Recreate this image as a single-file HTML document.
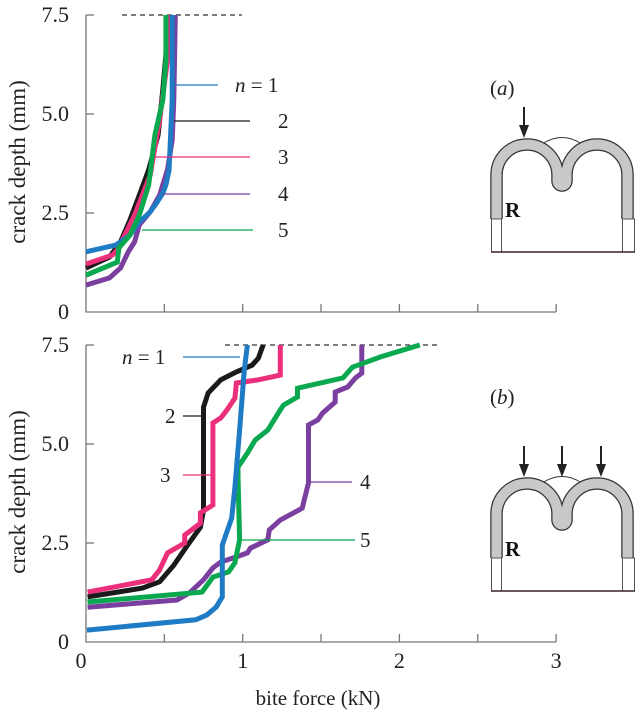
<!DOCTYPE html>
<html><head><meta charset="utf-8"><style>
html,body{margin:0;padding:0;background:#fff;}
svg{display:block;font-family:"Liberation Serif",serif;}
</style></head><body>
<svg id="chart" width="636" height="714" viewBox="0 0 636 714">
<g id="axes"></g><g id="series"></g><g id="labels"></g>
<g id="schematic-a"></g>
<g id="schematic-b"></g>
</svg>
<script>
const xTicks = [0, 0.5, 1, 1.5, 2, 2.5, 3];
const xTickLabels = ["0", "1", "2", "3"];
const yTicks = [0, 2.5, 5.0, 7.5];
const yTickLabels = ["0", "2.5", "5.0", "7.5"];
const seriesNames = ["n = 1", "2", "3", "4", "5"];
const seriesColors = ["#1f7bc4", "#1a1a1a", "#ec2f7a", "#7b3fa0", "#0aa84f"];
// panel a
const aBlueF = [0,.19,.28,.34,.41,.45,.49,.51,.53,.54,.55,.55];
const aBlueD = [1.52,1.69,1.94,2.27,2.53,2.75,3.0,3.21,3.59,4.47,5.35,7.5];
const aBlackF = [0,.15,.22,.28,.34,.40,.46,.49,.51,.52];
const aBlackD = [1.11,1.39,1.77,2.32,2.95,3.59,4.47,5.61,6.49,7.5];
const aPinkF = [0,.17,.20,.22,.31,.41,.47,.52,.53];
const aPinkD = [1.21,1.44,1.57,1.72,2.45,3.46,4.85,6.36,7.5];
const aPurpleF = [0,.15,.22,.27,.31,.34,.41,.47,.52,.55,.56,.57];
const aPurpleD = [.68,.86,1.11,1.52,1.77,2.2,2.53,2.95,3.59,4.34,5.35,7.5];
const aGreenF = [0,.20,.21,.28,.34,.40,.44,.49,.51,.51];
const aGreenD = [.93,1.26,1.62,1.94,2.45,3.21,4.47,5.35,6.36,7.5];
// panel b
const bBlueF = [.006,.7,.77,.83,.87,.87,.93,.95,.98,1.01,1.03];
const bBlueD = [.3,.56,.68,.88,1.14,2.45,3.13,3.91,5.35,6.87,7.5];
const bBlackF = [.01,.36,.47,.56,.64,.73,.75,.75,.78,.86,.96,1.06,1.10,1.13];
const bBlackD = [1.14,1.36,1.52,1.94,2.4,2.9,3.33,5.93,6.29,6.62,6.82,6.99,7.17,7.5];
const bPinkF = [.01,.42,.47,.52,.63,.63,.73,.73,.81,.81,.86,.9,.95,.96,1.10,1.24,1.24];
const bPinkD = [1.26,1.57,1.82,2.25,2.5,2.7,3.0,3.26,3.46,5.53,5.66,5.86,6.16,6.54,6.62,6.74,7.5];
const bPurpleF = [.01,.58,.66,.75,.81,.86,.96,1.03,1.05,1.16,1.17,1.24,1.38,1.42,1.42,1.48,1.51,1.59,1.59,1.67,1.72,1.76,1.76];
const bPurpleD = [.88,1.06,1.24,1.57,1.87,2.02,2.15,2.25,2.37,2.58,2.83,3.08,3.38,4.02,5.48,5.61,5.78,6.06,6.31,6.44,6.67,6.79,7.5];
const bGreenF = [.01,.74,.81,.91,.95,.98,.97,.97,1.03,1.08,1.16,1.24,1.26,1.35,1.35,1.64,1.70,1.88,2.13];
const bGreenD = [1.01,1.26,1.64,1.77,2.0,2.58,4.17,4.42,4.77,5.1,5.35,5.86,5.98,6.19,6.41,6.67,6.94,7.2,7.5];

const NS="http://www.w3.org/2000/svg";
const X0=86, XS=156.7, YS=39.6;
const X = f => X0 + f*XS;
const panels = [{y0:312, key:"a"}, {y0:642, key:"b"}];
function mk(tag, attrs, parent, text){
  const e=document.createElementNS(NS,tag);
  for(const k in attrs) e.setAttribute(k, attrs[k]);
  if(text!==undefined) e.textContent=text;
  parent.appendChild(e); return e;
}
const axesG=document.getElementById('axes'), serG=document.getElementById('series'), labG=document.getElementById('labels');
panels.forEach(p=>{
  const Y = d => p.y0 - d*YS;
  const ax = mk('path',{d:`M${X0},${Y(7.5)} V${p.y0} H${X(3)}`,fill:'none',stroke:'#777','stroke-width':1.3},axesG);
  
  
  xTicks.forEach(t=>{ if(t===0) return;
    const tk=mk('line',{x1:X(t),x2:X(t),y1:p.y0,y2:p.y0-8,stroke:'#777','stroke-width':1.3},axesG);
    
    
  });
  yTicks.forEach((t,i)=>{
    if(t>0){const tk=mk('line',{x1:X0,x2:X0+8,y1:Y(t),y2:Y(t),stroke:'#777','stroke-width':1.3},axesG);
    
    }
    const tl=mk('text',{x:69,y:Y(t)+7,'text-anchor':'end','font-size':22,fill:'#222'},labG,yTickLabels[i]);
    
    
  });
  const dash=mk('line',{x1:p.key==='a'?122:225,x2:p.key==='a'?242:441,y1:Y(7.5),y2:Y(7.5),stroke:'#333','stroke-width':1.2,'stroke-dasharray':'5,4'},axesG);
  
  
  const yt=mk('text',{transform:`translate(25,${p.y0-150}) rotate(-90)`,'text-anchor':'middle','font-size':23,fill:'#222'},labG,'crack depth (mm)');
  
  
});
[0,1,2,3].forEach((t,i)=>{
  const tl=mk('text',{x:X(t)-(i===0?5:0),y:668,'text-anchor':'middle','font-size':22,fill:'#222'},labG,xTickLabels[i]);
  
  
});
const xt=mk('text',{x:318,y:705,'text-anchor':'middle','font-size':21,fill:'#222'},labG,'bite force (kN)');



function line(F,D,y0,color,name){
  const pts=F.map((f,i)=>X(f).toFixed(1)+','+(y0-D[i]*YS).toFixed(1)).join(' ');
  const pl=mk('polyline',{points:pts,fill:'none',stroke:color,'stroke-width':5,'stroke-linejoin':'miter'},serG);
  
  
}
line(aBlackF,aBlackD,312,seriesColors[1],'series-a-n2');
line(aPinkF,aPinkD,312,seriesColors[2],'series-a-n3');
line(aPurpleF,aPurpleD,312,seriesColors[3],'series-a-n4');
line(aBlueF,aBlueD,312,seriesColors[0],'series-a-n1');
line(aGreenF,aGreenD,312,seriesColors[4],'series-a-n5');
line(bBlackF,bBlackD,642,seriesColors[1],'series-b-n2');
line(bPinkF,bPinkD,642,seriesColors[2],'series-b-n3');
line(bPurpleF,bPurpleD,642,seriesColors[3],'series-b-n4');
line(bGreenF,bGreenD,642,seriesColors[4],'series-b-n5');
line(bBlueF,bBlueD,642,seriesColors[0],'series-b-n1');

const callA=[[174,218,85,235],[174,250,121,278],[155,250,157,278],[163,250,194,278],[142,253,230,278]];
callA.forEach((c,i)=>{
  const l=mk('line',{x1:c[0],x2:c[1],y1:c[2],y2:c[2],stroke:seriesColors[i],'stroke-width':1.3},labG);
  
  
  const t=mk('text',{x:c[3],y:c[2]+7,'font-size':21,fill:'#222'},labG);
  
  
  if(i===0){ t.innerHTML='<tspan font-style="italic">n</tspan> = 1'; } else t.textContent=seriesNames[i];
});
const callB=[[183,240,357,122],[183,203,416,165],[183,213,475,160],[310,352,482,360],[238,355,540,360]];
callB.forEach((c,i)=>{
  const l=mk('line',{x1:c[0],x2:c[1],y1:c[2],y2:c[2],stroke:seriesColors[i],'stroke-width':1.3},labG);
  
  
  const t=mk('text',{x:c[3],y:c[2]+7,'font-size':21,fill:'#222'},labG);
  
  
  if(i===0){ t.innerHTML='<tspan font-style="italic">n</tspan> = 1'; } else t.textContent=seriesNames[i];
});
[['(a)',490,95],['(b)',490,404]].forEach(p=>{
  const t=mk('text',{x:p[1],y:p[2],'font-size':21,fill:'#222'},labG);
  t.innerHTML='(<tspan font-style="italic">'+p[0][1]+'</tspan>)';
  
  
});

function tooth(g,top,arrows){
  const cy=top+36, gb=top+80, bot=top+113;
  const path=`M496.5,${gb} V${cy} A30.5,30.5 0 0 1 557.5,${cy} V${cy+6} A4.5,4.5 0 0 0 566.5,${cy+6} V${cy} A30.5,30.5 0 0 1 627.5,${cy} V${gb}`;
  mk('path',{d:`M542,${top+5} Q562,${top-8} 582,${top+5}`,fill:'none',stroke:'#333','stroke-width':1},g);
  mk('path',{d:path,fill:'none',stroke:'#333','stroke-width':12.5},g);
  mk('path',{d:path,fill:'none',stroke:'#c8c8c8','stroke-width':10},g);
  mk('rect',{x:491.5,y:gb,width:10,height:bot-gb,fill:'#fff',stroke:'#555','stroke-width':1},g);
  mk('rect',{x:622.5,y:gb,width:12,height:bot-gb,fill:'#fff',stroke:'#555','stroke-width':1},g);
  mk('line',{x1:491,x2:635,y1:bot,y2:bot,stroke:'#3a2020','stroke-width':1.5},g);
  mk('text',{x:505,y:gb-2,'font-size':21,'font-weight':'bold',fill:'#111'},g,'R');
  arrows.forEach(ax=>{
    mk('line',{x1:ax,x2:ax,y1:top-32,y2:top-12,stroke:'#222','stroke-width':2},g);
    mk('path',{d:`M${ax-5},${top-14} L${ax+5},${top-14} L${ax},${top-1} Z`,fill:'#222'},g);
  });
}
tooth(document.getElementById('schematic-a'),139,[524]);
tooth(document.getElementById('schematic-b'),478,[524,562,601]);
</script>
</body></html>
